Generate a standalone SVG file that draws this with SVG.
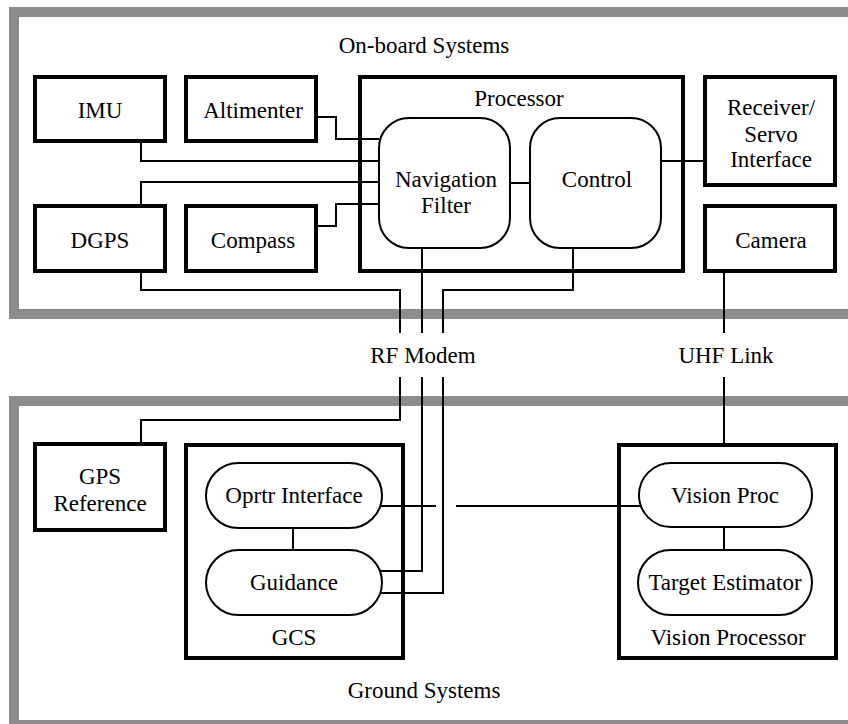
<svg xmlns="http://www.w3.org/2000/svg" width="848" height="724" viewBox="0 0 848 724">
<style>
text{font-family:Liberation Serif,Times New Roman,Times,Tinos,Noto Serif,DejaVu Serif,FreeSerif,serif;font-size:23px;fill:#000;text-anchor:middle}
.frame{fill:none;stroke:#8c8c8c;stroke-width:10}
.box{fill:none;stroke:#000;stroke-width:4}
.pill{fill:none;stroke:#000;stroke-width:2}
.wire{fill:none;stroke:#000;stroke-width:2}
</style>
<rect width="848" height="724" fill="#fff"/>
<g id="frames">
<rect class="frame" x="14" y="12" width="900" height="302"/>
<rect class="frame" x="14" y="401" width="900" height="324"/>
<text x="424" y="53">On-board Systems</text>
<text x="424" y="698">Ground Systems</text>
</g>
<g id="imu"><rect class="box" x="35" y="77" width="130" height="64"/><text x="100" y="118">IMU</text></g>
<g id="altimenter"><rect class="box" x="186" y="77" width="130" height="64"/><text x="253" y="118">Altimenter</text></g>
<g id="dgps"><rect class="box" x="35" y="206" width="130" height="65"/><text x="100" y="248">DGPS</text></g>
<g id="compass"><rect class="box" x="186" y="206" width="130" height="65"/><text x="253" y="248">Compass</text></g>
<g id="processor"><rect class="box" x="360" y="77" width="323" height="194"/><text x="519" y="106">Processor</text></g>
<g id="navfilter"><rect class="pill" x="379" y="118" width="131" height="130" rx="30" ry="30"/><text x="446" y="187">Navigation</text><text x="446" y="213">Filter</text></g>
<g id="control"><rect class="pill" x="530" y="118" width="131" height="130" rx="30" ry="30"/><text x="597" y="187">Control</text></g>
<g id="receiver"><rect class="box" x="705" y="77" width="130" height="108"/><text x="771" y="115">Receiver/</text><text x="771" y="142">Servo</text><text x="771" y="167">Interface</text></g>
<g id="camera"><rect class="box" x="705" y="206" width="130" height="65"/><text x="771" y="248">Camera</text></g>
<g id="rfmodem"><text x="423" y="363">RF Modem</text></g>
<g id="uhflink"><text x="726" y="363">UHF Link</text></g>
<g id="gpsref"><rect class="box" x="35" y="444" width="130" height="86"/><text x="100" y="484">GPS</text><text x="100" y="511">Reference</text></g>
<g id="gcs"><rect class="box" x="186" y="445" width="217" height="213"/><text x="294" y="645">GCS</text></g>
<g id="oprtr"><rect class="pill" x="206" y="463" width="176" height="65" rx="32.5" ry="32.5"/><text x="294" y="503">Oprtr Interface</text></g>
<g id="guidance"><rect class="pill" x="206" y="550" width="176" height="65" rx="32.5" ry="32.5"/><text x="294" y="590">Guidance</text></g>
<g id="visionprocessor"><rect class="box" x="619" y="445" width="217" height="213"/><text x="728" y="645">Vision Processor</text></g>
<g id="visionproc"><rect class="pill" x="639" y="463" width="173" height="64" rx="32" ry="32"/><text x="725" y="503">Vision Proc</text></g>
<g id="targetest"><rect class="pill" x="638" y="550" width="174" height="65" rx="32.5" ry="32.5"/><text x="725" y="590">Target Estimator</text></g>
<g id="connectors">
<path class="wire" d="M318 117H336V139H379"/>
<path class="wire" d="M141 143V161H379"/>
<path class="wire" d="M141 204V182H379"/>
<path class="wire" d="M318 226H336V204H379"/>
<path class="wire" d="M510 183H530"/>
<path class="wire" d="M661 161H703"/>
<path class="wire" d="M141 273V290H400V333"/>
<path class="wire" d="M422 248V333"/>
<path class="wire" d="M573 248V290H443V333"/>
<path class="wire" d="M724 273V333"/>
<path class="wire" d="M400 377V420H141V442"/>
<path class="wire" d="M422 377V571H380"/>
<path class="wire" d="M443 377V593H380"/>
<path class="wire" d="M724 377V443"/>
<path class="wire" d="M380 506H436"/>
<path class="wire" d="M456 506H641"/>
<path class="wire" d="M293 528V550"/>
<path class="wire" d="M724 527V550"/>
</g>
</svg>
